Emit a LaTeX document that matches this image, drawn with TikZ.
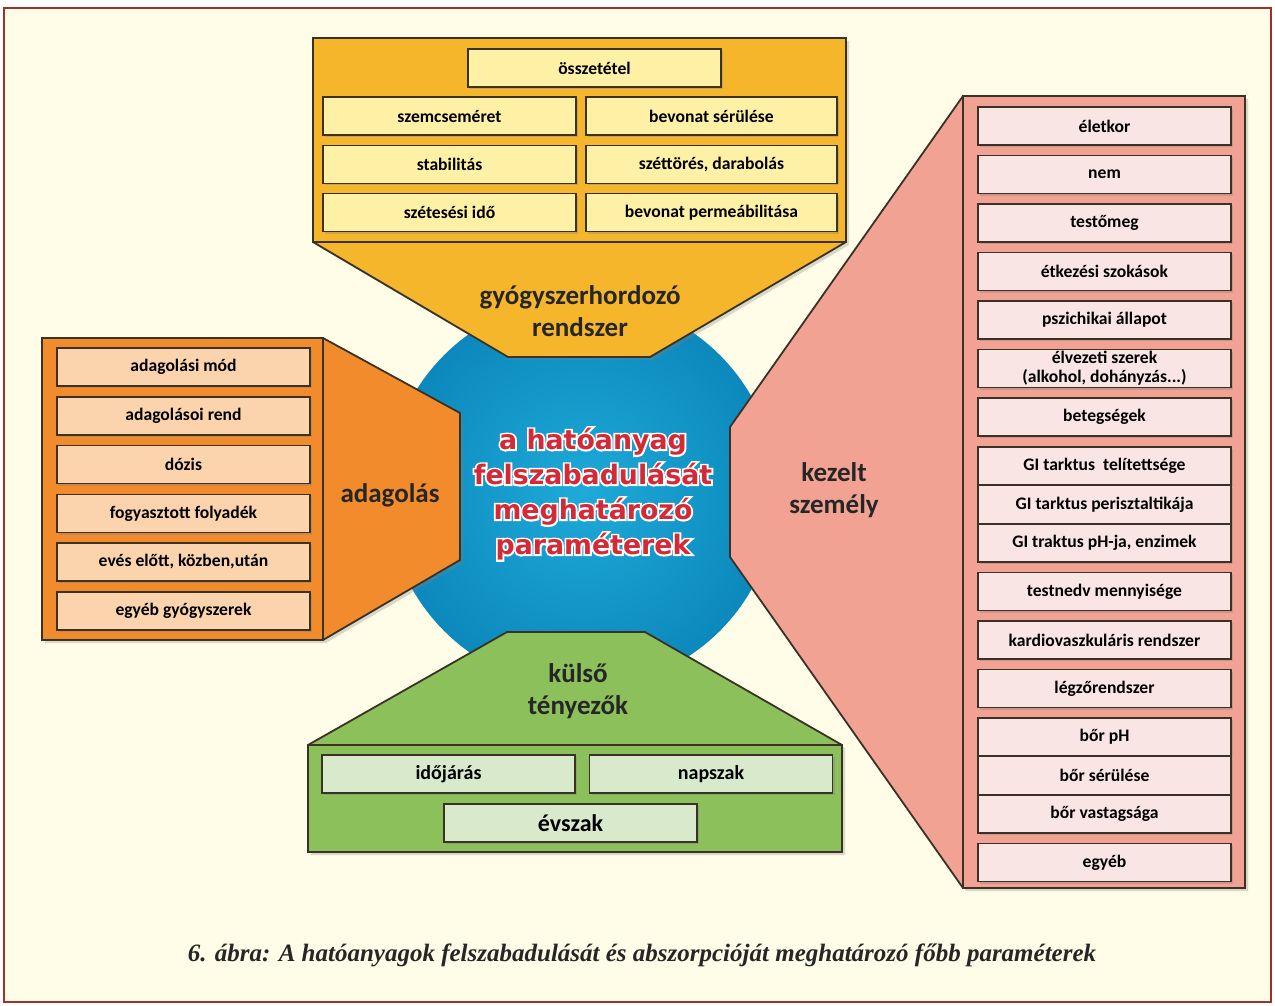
\documentclass[tikz,border=0pt]{standalone}
\usepackage{fontspec}
\setmainfont{Carlito}
\newfontfamily\capfont{Liberation Serif}
\newfontfamily\midfont{DejaVu Sans}
\usetikzlibrary{shadows}

\definecolor{paper}{HTML}{FFFDE8}
\definecolor{frame}{HTML}{A0302A}
\definecolor{edgedark}{HTML}{3A3226}
\definecolor{yelout}{HTML}{F5B62C}
\definecolor{yelin}{HTML}{FEF0A4}
\definecolor{orout}{HTML}{F28B2B}
\definecolor{orin}{HTML}{FBD4AD}
\definecolor{pkout}{HTML}{F2A293}
\definecolor{pkin}{HTML}{F9E5E3}
\definecolor{grout}{HTML}{8CC05B}
\definecolor{grin}{HTML}{D8EACB}
\definecolor{blin}{HTML}{1EAAD8}
\definecolor{blout}{HTML}{0C88BC}
\definecolor{midred}{HTML}{D42A38}

% white rim behind the red title letters: stroked copy, then the filled text
\newcommand{\rimtext}[1]{\rlap{\special{pdf:literal direct 1 1 1 RG 1.8 w 1 Tr}#1\special{pdf:literal direct 0 Tr}}#1}

\begin{document}
\begin{tikzpicture}[x=0.5pt, y=-0.5pt,
    itembox/.style={draw=edgedark, line width=0.8pt, minimum width=126.5pt, minimum height=19pt,
      inner sep=0pt, font=\fontsize{8.8}{9.6}\selectfont\bfseries, align=center,
      drop shadow={shadow xshift=1pt, shadow yshift=-1pt, opacity=0.35}},
    yelbox/.style={itembox, fill=yelin},
    orbox/.style={itembox, fill=orin},
    pkbox/.style={itembox, fill=pkin},
    grbox/.style={itembox, fill=grin, font=\fontsize{10}{11}\selectfont\bfseries},
    block/.style={draw=edgedark, line width=0.9pt,
      drop shadow={shadow xshift=1.5pt, shadow yshift=-1.5pt, opacity=0.3}},
    biglabel/.style={font=\fontsize{13.5}{16}\selectfont\bfseries, align=center, text=black!85}]

  % page and frame
  \useasboundingbox (0,0) rectangle (1275,1006);
  \fill[white] (0,0) rectangle (1275,1006);
  \draw[frame, fill=paper, line width=0.6pt] (4,8) rectangle (1271,1002);

  % central disc
  \shade[inner color=blin, outer color=blout] (582,493) circle (195);

  % yellow block
  \fill[yelout, block] (313,38) -- (846,38) -- (846,242) -- (650,357) -- (508,357) -- (313,242) -- cycle;
  \draw[edgedark, line width=0.9pt] (313,38) rectangle (846,242);
  % orange block
  \fill[orout, block] (42,338) -- (323,338) -- (460,413) -- (460,560) -- (323,640) -- (42,640) -- cycle;
  \draw[edgedark, line width=0.9pt] (42,338) rectangle (323,640);
  % pink block
  \fill[pkout, block] (963,96) -- (1245,96) -- (1245,888) -- (963,888) -- (730,557) -- (730,427) -- cycle;
  \draw[edgedark, line width=0.9pt] (963,96) rectangle (1245,888);
  % green block
  \fill[grout, block] (507,632) -- (645,632) -- (842,745) -- (842,852) -- (308,852) -- (308,745) -- cycle;
  \draw[edgedark, line width=0.9pt] (308,745) rectangle (842,852);

  % gyógyszerhordozó rendszer
  \node[yelbox] (osszetetel) at (594.5,68) {összetétel};
  \node[yelbox] (szemcse) at (449.5,116) {szemcseméret};
  \node[yelbox, minimum width=125.5pt] (bevserul) at (711.5,116) {bevonat sérülése};
  \node[yelbox] (stabil) at (449.5,164.5) {stabilitás};
  \node[yelbox, minimum width=125.5pt] (szettores) at (711.5,164.5) {széttörés, darabolás};
  \node[yelbox] (szetes) at (449.5,212.5) {szétesési idő};
  \node[yelbox, minimum width=125.5pt] (bevperm) at (711.5,212.5) {bevonat permeábilitása};
  \node[biglabel] (gyogysz) at (580,311) {gyógyszerhordozó\\rendszer};

  % adagolás
  \node[orbox] (admod) at (183.5,367) {adagolási mód};
  \node[orbox] (adrend) at (183.5,416) {adagolásoi rend};
  \node[orbox] (dozis) at (183.5,464.5) {dózis};
  \node[orbox] (folyadek) at (183.5,513.5) {fogyasztott folyadék};
  \node[orbox] (eves) at (183.5,562) {evés előtt, közben,után};
  \node[orbox] (gyogyszerek) at (183.5,611) {egyéb gyógyszerek};
  \node[biglabel] (adagolas) at (390,495) {adagolás};

  % kezelt személy
  \node[pkbox] (eletkor) at (1104.5,126) {életkor};
  \node[pkbox] (nem) at (1104.5,174.5) {nem};
  \node[pkbox] (testomeg) at (1104.5,223) {testőmeg};
  \node[pkbox] (etkezes) at (1104.5,271.5) {étkezési szokások};
  \node[pkbox] (pszich) at (1104.5,320) {pszichikai állapot};
  \node[pkbox] (elvezeti) at (1104.5,368.5) {élvezeti szerek\\(alkohol, dohányzás...)};
  \node[pkbox] (betegseg) at (1104.5,417) {betegségek};
  \node[pkbox] (gitelit) at (1104.5,466) {GI tarktus\ \ telítettsége};
  \node[pkbox] (giperi) at (1104.5,504.5) {GI tarktus perisztaltikája};
  \node[pkbox] (giph) at (1104.5,543) {GI traktus pH-ja, enzimek};
  \node[pkbox] (testnedv) at (1104.5,591.5) {testnedv mennyisége};
  \node[pkbox] (kardio) at (1104.5,640) {kardiovaszkuláris rendszer};
  \node[pkbox] (legzo) at (1104.5,688.5) {légzőrendszer};
  \node[pkbox] (borph) at (1104.5,737) {bőr pH};
  \node[pkbox] (borserul) at (1104.5,775.5) {bőr sérülése};
  \node[pkbox] (borvast) at (1104.5,814) {bőr vastagsága};
  \node[pkbox] (egyeb) at (1104.5,862.5) {egyéb};
  \node[biglabel] (kezelt) at (834,490) {kezelt\\személy};

  % külső tényezők
  \node[grbox] (idojaras) at (448.5,774) {időjárás};
  \node[grbox, minimum width=121.5pt] (napszak) at (711,774) {napszak};
  \node[grbox, font=\fontsize{12}{13}\selectfont\bfseries] (evszak) at (570.5,823) {évszak};
  \node[biglabel] (kulso) at (578,691) {külső\\tényezők};

  % centre title
  \node[font=\midfont\fontsize{13.4}{17.5}\selectfont\bfseries, text=midred, align=center] (cim) at (593,494)
    {\rimtext{a hatóanyag}\\\rimtext{felszabadulását}\\\rimtext{meghatározó}\\\rimtext{paraméterek}};

  % caption
  \node[font=\capfont\fontsize{12.5}{14}\selectfont\bfseries\itshape, text=black!85] (abra) at (642,955)
    {6. ábra: A hatóanyagok felszabadulását és abszorpcióját meghatározó főbb paraméterek};
\end{tikzpicture}
\end{document}
